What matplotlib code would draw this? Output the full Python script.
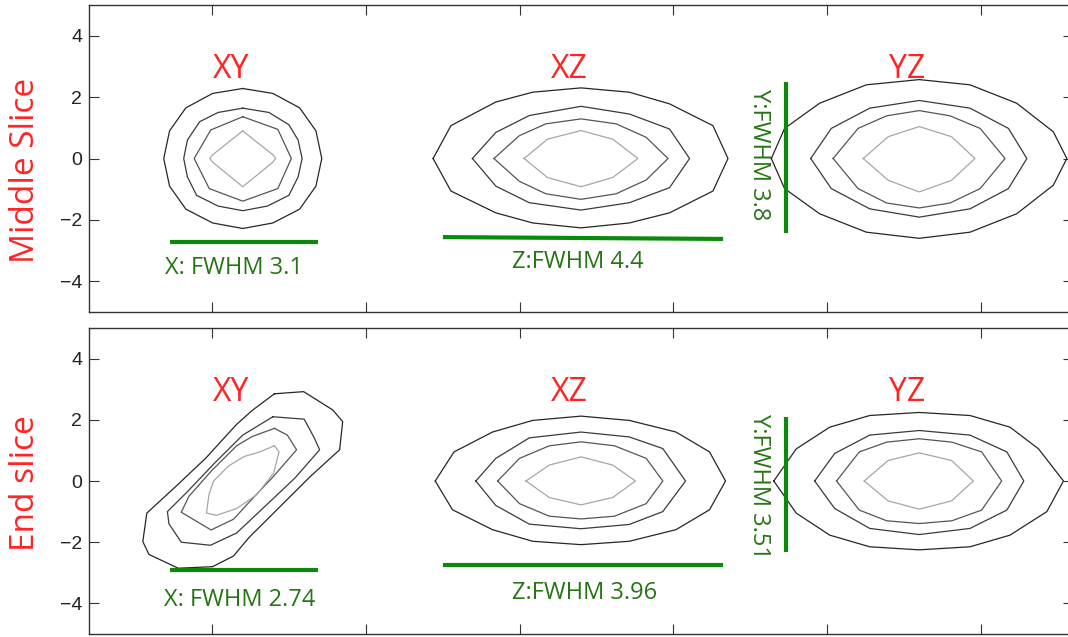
import matplotlib.pyplot as plt

plt.rcParams['font.family'] = ['Liberation Sans', 'DejaVu Sans']

# contour rings for each view, outermost first, as (dx, dy) offsets from the view centre
mid_xy = [
    [(0, 2.28), (0.98, 2.12), (1.85, 1.65), (2.38, 0.9), (2.57, 0), (2.38, -0.9), (1.85, -1.65), (0.98, -2.1),
     (0, -2.28), (-0.98, -2.1), (-1.85, -1.65), (-2.38, -0.9), (-2.57, 0), (-2.38, 0.9), (-1.85, 1.65), (-0.98, 2.12)],
    [(0, 1.64), (0.85, 1.5), (1.5, 1.1), (1.8, 0.6), (1.93, 0), (1.8, -0.6), (1.5, -1.2), (0.8, -1.55),
     (0, -1.7), (-0.8, -1.55), (-1.5, -1.2), (-1.8, -0.6), (-1.92, 0), (-1.8, 0.6), (-1.4, 1.2), (-0.8, 1.5)],
    [(0, 1.36), (1.14, 0.95), (1.58, 0), (1.14, -0.98), (0, -1.39), (-1.09, -0.98), (-1.58, 0), (-1.04, 0.93)],
    [(0, 0.9), (0.98, 0.12), (1.07, 0), (0.98, -0.12), (0, -0.92), (-0.98, -0.12), (-1.07, 0), (-0.98, 0.12)],
]
mid_xz = [
    [(-4.81, 0), (-4.23, 1.07), (-2.77, 1.84), (-1.57, 2.16), (0, 2.3), (1.57, 2.16), (2.88, 1.78), (4.29, 1.07),
     (4.78, 0), (4.29, -1.06), (2.88, -1.77), (1.57, -2.1), (0, -2.26), (-1.57, -2.1), (-2.77, -1.77), (-4.23, -1.06)],
    [(-3.53, 0), (-2.77, 0.85), (-1.68, 1.4), (0, 1.7), (1.57, 1.45), (2.88, 0.96), (3.53, 0), (2.88, -0.95),
     (1.57, -1.44), (0, -1.68), (-1.68, -1.44), (-2.77, -0.9)],
    [(-2.83, 0), (-2.01, 0.74), (-1.14, 1.13), (0, 1.29), (1.14, 1.13), (2.12, 0.69), (2.83, 0), (2.12, -0.7),
     (1.14, -1.15), (0, -1.33), (-1.14, -1.15), (-2.01, -0.74)],
    [(-1.85, 0), (-1.09, 0.63), (0, 0.91), (1.03, 0.63), (1.85, 0), (1.03, -0.62), (0, -0.92), (-1.09, -0.62)],
]
mid_yz = [
    [(-4.81, 0), (-4.38, 0.98), (-3.24, 1.8), (-1.72, 2.4), (0, 2.57), (1.65, 2.4), (3.17, 1.8), (4.36, 0.87),
     (4.8, 0), (4.36, -0.87), (3.17, -1.8), (1.65, -2.4), (0, -2.6), (-1.72, -2.4), (-3.24, -1.8), (-4.38, -0.98)],
    [(-3.53, 0), (-2.86, 0.98), (-1.61, 1.64), (0, 1.89), (1.65, 1.64), (2.9, 0.98), (3.5, 0), (2.9, -0.98),
     (1.65, -1.64), (0, -1.91), (-1.61, -1.64), (-2.86, -0.98)],
    [(-2.8, 0), (-1.99, 0.98), (-1.06, 1.39), (0, 1.56), (1.0, 1.39), (1.98, 0.98), (2.79, 0), (1.98, -0.98),
     (1.0, -1.45), (0, -1.61), (-1.06, -1.45), (-1.99, -0.98)],
    [(-1.82, 0), (-1.01, 0.71), (0, 1.04), (1.05, 0.71), (1.81, 0), (1.05, -0.71), (0, -1.09), (-1.01, -0.71)],
]
end_xy = [
    [(1.03, 2.85), (1.98, 2.92), (2.93, 2.32), (3.25, 1.94), (3.15, 1.02), (2.2, 0.15), (1.2, -0.85), (0.2, -1.85),
     (-0.3, -2.45), (-0.98, -2.8), (-2.1, -2.85), (-3.05, -2.4), (-3.25, -1.98), (-3.12, -1.05), (-2.2, -0.2),
     (-1.2, 0.75), (-0.2, 1.85), (0.3, 2.3)],
    [(0.98, 2.1), (2.0, 2.02), (2.33, 1.4), (2.5, 1.02), (1.7, 0.1), (0.7, -0.85), (-0.2, -1.7), (-1.05, -2.1),
     (-2.0, -2.0), (-2.4, -1.4), (-2.45, -1.0), (-1.8, -0.35), (-0.9, 0.6), (0.0, 1.5)],
    [(1.03, 1.72), (1.45, 1.5), (1.75, 1.02), (1.0, 0.15), (0.2, -0.7), (-0.3, -1.25), (-1.03, -1.6),
     (-2.0, -1.02), (-1.75, -0.5), (-1.0, 0.35), (-0.2, 1.15), (0.3, 1.45)],
    [(1.03, 1.15), (1.18, 0.95), (1.0, 0.25), (0.45, -0.45), (-0.2, -0.9), (-0.85, -1.12), (-1.18, -1.05),
     (-1.1, -0.45), (-0.95, 0.0), (-0.45, 0.5), (0.05, 0.8), (0.55, 0.95)],
]
end_xz = [
    [(-4.74, 0), (-4.13, 0.95), (-2.88, 1.6), (-1.57, 1.98), (0, 2.12), (1.57, 1.98), (3.09, 1.6), (4.18, 0.95),
     (4.7, 0), (4.18, -0.94), (3.09, -1.59), (1.57, -1.97), (0, -2.08), (-1.57, -1.97), (-2.88, -1.59), (-4.18, -0.94)],
    [(-3.42, 0), (-2.77, 0.74), (-1.68, 1.41), (0, 1.6), (1.57, 1.44), (2.66, 1.06), (3.4, 0), (2.66, -1.0),
     (1.57, -1.42), (0, -1.56), (-1.68, -1.41), (-2.77, -0.8)],
    [(-2.71, 0), (-2.0, 0.74), (-1.03, 1.15), (0, 1.28), (1.09, 1.15), (2.12, 0.74), (2.66, 0), (2.12, -0.74),
     (1.09, -1.15), (0, -1.24), (-1.03, -1.15), (-2.0, -0.74)],
    [(-1.79, 0), (-1.03, 0.52), (0, 0.79), (1.03, 0.52), (1.77, 0), (1.03, -0.54), (0, -0.78), (-1.03, -0.54)],
]
end_yz = [
    [(-4.73, 0), (-4.0, 1.05), (-2.91, 1.76), (-1.61, 2.14), (0, 2.24), (1.65, 2.14), (2.95, 1.76), (3.88, 1.05),
     (4.69, 0), (4.15, -1.0), (2.95, -1.77), (1.65, -2.15), (0, -2.25), (-1.61, -2.15), (-2.91, -1.77), (-4.0, -1.05)],
    [(-3.4, 0), (-2.75, 0.9), (-1.61, 1.5), (0, 1.65), (1.65, 1.5), (2.85, 0.95), (3.4, 0), (2.85, -0.95),
     (1.65, -1.55), (0, -1.75), (-1.61, -1.55), (-2.75, -0.9)],
    [(-2.69, 0), (-1.95, 0.95), (-1.06, 1.27), (0, 1.38), (1.06, 1.27), (2.03, 0.95), (2.68, 0), (2.03, -0.95),
     (1.06, -1.3), (0, -1.39), (-1.06, -1.3), (-1.95, -0.95)],
    [(-1.79, 0), (-1.01, 0.67), (0, 0.92), (1.05, 0.67), (1.76, 0), (1.05, -0.65), (0, -0.92), (-1.01, -0.65)],
]

view_names = ['XY', 'XZ', 'YZ']
view_centres = [4, 15, 26]
row_names = ['Middle Slice', 'End slice']
row_views = [[mid_xy, mid_xz, mid_yz], [end_xy, end_xz, end_yz]]

# FWHM annotations: label text, then bar end points
x_fwhm = ['X: FWHM 3.1', 'X: FWHM 2.74']
z_fwhm = ['Z:FWHM 4.4', 'Z:FWHM 3.96']
y_fwhm = ['Y:FWHM 3.8', 'Y:FWHM 3.51']
x_bar = [((1.63, 6.45), (-2.72, -2.72)), ((1.63, 6.45), (-2.9, -2.9))]
z_bar = [((10.51, 19.62), (-2.56, -2.62)), ((10.51, 19.62), (-2.73, -2.73))]
y_bar = [((21.67, 21.67), (2.49, -2.43)), ((21.67, 21.67), (2.08, -2.31))]
x_text = [(3.72, -3.77), (3.9, -4.07)]
z_text = [(14.9, -3.57), (15.1, -3.87)]
y_text = [(20.79, 0.13), (20.79, -0.17)]

ring_colours = ['#262626', '#3a3a3a', '#555555', '#a6a6a6']
red = '#ff2424'
green_line = '#0a8a0a'
green_text = '#267514'

fig = plt.figure(figsize=(10.68, 6.37), dpi=100)
W, H = 1068, 637
axes = [fig.add_axes([89 / W, 1 - 312 / H, 984 / W, 307 / H]),
        fig.add_axes([89 / W, 1 - 634 / H, 984 / W, 306 / H])]

for r, ax in enumerate(axes):
    for views, cx, name in zip(row_views[r], view_centres, view_names):
        for ring, col in zip(views, ring_colours):
            xs = [cx + p[0] for p in ring] + [cx + ring[0][0]]
            ys = [p[1] for p in ring] + [ring[0][1]]
            ax.plot(xs, ys, color=col, lw=0.9)
        ax.text(cx - 0.38, 2.62, name, color=red, fontsize=23, family='Open Sans',
                ha='center', va='baseline')

    for bar in (x_bar[r], z_bar[r], y_bar[r]):
        ax.plot(bar[0], bar[1], color=green_line, lw=3, solid_capstyle='butt')
    ax.text(*x_text[r], x_fwhm[r], color=green_text, fontsize=17, family='Open Sans',
            ha='center', va='baseline')
    ax.text(*z_text[r], z_fwhm[r], color=green_text, fontsize=17, family='Open Sans',
            ha='center', va='baseline')
    ax.text(*y_text[r], y_fwhm[r], color=green_text, fontsize=17, family='Open Sans',
            ha='center', va='center', rotation=-90)

    ax.set_xlim(-1, 31)
    ax.set_ylim(-5, 5)
    ax.set_xticks([3, 8, 13, 18, 23, 28])
    ax.set_yticks([-4, -2, 0, 2, 4])
    ax.tick_params(direction='in', length=7, width=0.8, color='#333333', top=True, right=True,
                   labelbottom=False, labelsize=14, labelcolor='#222222', pad=5)
    for s in ax.spines.values():
        s.set_color('#333333')
        s.set_linewidth(1.0)

fig.text(26 / W, 1 - 170 / H, row_names[0], color=red, fontsize=24, family='Open Sans',
         rotation=90, ha='center', va='center')
fig.text(26 / W, 1 - 483 / H, row_names[1], color=red, fontsize=24, family='Open Sans',
         rotation=90, ha='center', va='center')

fig.savefig('out.png', dpi=100)
